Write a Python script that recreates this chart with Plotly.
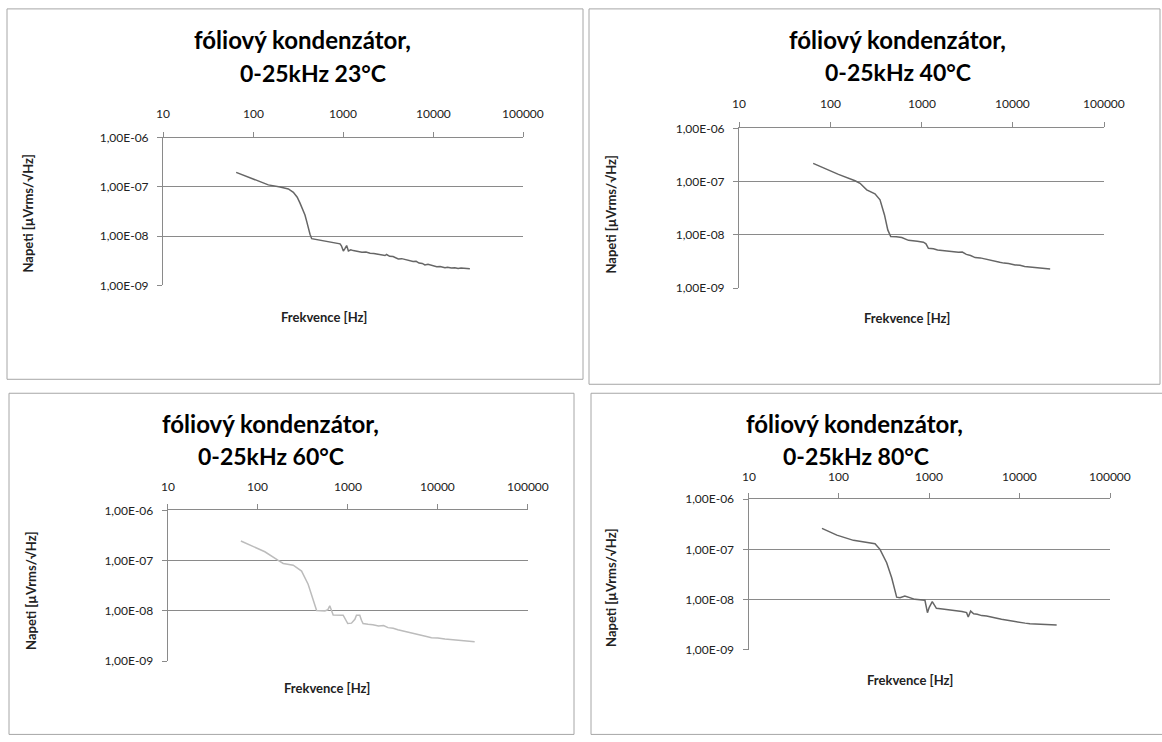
import math
import plotly.graph_objects as go

# ---------------- data ----------------
freq_23 = [65, 100, 148, 200, 247, 281, 310, 333, 355, 378, 395, 412, 430, 449, 500, 560, 631, 700,
           780, 850, 927, 960, 1009, 1050, 1098, 1148, 1220, 1300, 1450, 1622, 1800, 2000, 2200,
           2400, 2650, 2930, 3050, 3300, 3600, 3850, 4110, 4500, 5000, 5500, 6000, 6500, 7000,
           7600, 8130, 8800, 9500, 10200, 11000, 12000, 13600, 14500, 16000, 17500, 19000, 20500,
           22000, 23500, 25700]
volt_23 = [1.98e-7, 1.46e-7, 1.10e-7, 1.00e-7, 9.1e-8, 7.8e-8, 6.2e-8, 4.7e-8, 3.6e-8, 2.7e-8,
           2.0e-8, 1.45e-8, 1.1e-8, 8.9e-9, 8.6e-9, 8.3e-9, 7.8e-9, 7.6e-9,
           7.3e-9, 7.2e-9, 7.0e-9, 6.4e-9, 5.0e-9, 5.6e-9, 6.45e-9, 5.0e-9, 5.3e-9, 5.1e-9, 4.9e-9,
           4.7e-9, 4.75e-9, 4.5e-9, 4.45e-9, 4.3e-9, 4.2e-9, 4.05e-9, 4.25e-9, 3.9e-9, 3.85e-9,
           3.6e-9, 3.45e-9, 3.5e-9, 3.3e-9, 3.2e-9, 3.05e-9, 3.1e-9, 2.85e-9,
           2.8e-9, 2.6e-9, 2.68e-9, 2.55e-9, 2.5e-9, 2.4e-9, 2.42e-9, 2.3e-9, 2.35e-9, 2.25e-9,
           2.28e-9, 2.2e-9, 2.26e-9, 2.22e-9, 2.16e-9, 2.18e-9]

freq_40 = [65, 123, 187, 212, 251, 309, 351, 393, 427, 460, 530, 608, 720, 800, 900, 1050, 1120,
           1190, 1350, 1500, 1670, 1850, 2100, 2300, 2540, 2800, 3100, 3450, 3870, 4400, 5000,
           5600, 6410, 7200, 8000, 9000, 10600, 12000, 13500, 15500, 17600, 19500, 21000, 23000,
           25700]
volt_40 = [2.2e-7, 1.37e-7, 1.04e-7, 9.3e-8, 7.0e-8, 5.9e-8, 4.55e-8, 2.37e-8, 1.24e-8, 9.3e-9,
           9.2e-9, 8.9e-9, 7.9e-9, 7.8e-9, 7.6e-9, 7.3e-9, 6.8e-9,
           5.6e-9, 5.5e-9, 5.2e-9, 5.1e-9, 4.95e-9, 4.9e-9, 4.8e-9, 4.7e-9, 4.75e-9, 4.3e-9,
           4.1e-9, 3.75e-9, 3.7e-9, 3.5e-9, 3.35e-9, 3.16e-9, 3.05e-9, 2.95e-9, 2.9e-9, 2.73e-9,
           2.7e-9, 2.55e-9, 2.5e-9, 2.43e-9, 2.4e-9, 2.38e-9, 2.35e-9, 2.3e-9]

freq_60 = [65, 120, 169, 192, 248, 307, 363, 407, 451, 557, 600, 631, 660, 689, 889, 950, 1000,
           1100, 1200, 1250, 1360, 1420, 1480, 1680, 1900, 2200, 2500, 2800, 3200, 3600, 4100,
           4680, 5500, 6500, 7500, 8500, 10000, 12000, 13500, 15500, 17500, 20000, 22500, 25700]
volt_60 = [2.46e-7, 1.5e-7, 1.01e-7, 8.8e-8, 8.1e-8, 6.2e-8, 3.4e-8, 1.83e-8, 1.02e-8, 1.0e-8,
           1.05e-8, 1.26e-8, 1.05e-8, 8.3e-9, 8.2e-9, 6.5e-9, 5.6e-9,
           5.7e-9, 6.8e-9, 8.2e-9, 8.2e-9, 6.5e-9, 5.6e-9, 5.4e-9, 5.3e-9, 5.0e-9, 5.1e-9, 4.64e-9,
           4.5e-9, 4.2e-9, 4.0e-9, 3.7e-9, 3.55e-9, 3.3e-9, 3.1e-9, 2.93e-9, 2.9e-9, 2.75e-9,
           2.7e-9, 2.6e-9, 2.62e-9, 2.5e-9, 2.52e-9, 2.44e-9]

freq_80 = [65, 95, 145, 221, 251, 285, 338, 384, 436, 475, 537, 695, 896, 955, 1000, 1080, 1200,
           1400, 1700, 2000, 2300, 2590, 2700, 2870, 3100, 3400, 3800, 4310, 4900, 5600, 6300,
           7180, 8200, 9200, 10000, 11500, 13000, 15000, 18000, 20500, 23000, 25700]
volt_80 = [2.61e-7, 1.92e-7, 1.51e-7, 1.35e-7, 1.29e-7, 1.0e-7, 5.4e-8, 2.72e-8, 1.12e-8, 1.09e-8,
           1.18e-8, 1.01e-8, 9.7e-9, 5.5e-9, 7.0e-9, 9.1e-9, 6.7e-9,
           6.5e-9, 6.3e-9, 6.1e-9, 5.8e-9, 5.5e-9, 4.5e-9, 5.9e-9, 5.2e-9, 5.1e-9, 4.8e-9, 4.7e-9,
           4.4e-9, 4.25e-9, 4.05e-9, 3.87e-9, 3.8e-9, 3.6e-9, 3.55e-9, 3.4e-9, 3.31e-9, 3.25e-9,
           3.2e-9, 3.15e-9, 3.18e-9, 3.13e-9]

titles_line1 = ["fóliový kondenzátor,"] * 4
titles_line2 = ["0-25kHz 23°C", "0-25kHz 40°C", "0-25kHz 60°C", "0-25kHz 80°C"]
x_tick_vals = [10, 100, 1000, 10000, 100000]
x_tick_text = ["10", "100", "1000", "10000", "100000"]
y_tick_vals = [1e-9, 1e-8, 1e-7, 1e-6]
y_tick_text = ["1,00E-09", "1,00E-08", "1,00E-07", "1,00E-06"]
x_title = "Frekvence [Hz]"
y_title = "Napeti [µVrms/√Hz]"

series = [(freq_23, volt_23), (freq_40, volt_40), (freq_60, volt_60), (freq_80, volt_80)]
line_colors = ["#666666", "#666666", "#bcbcbc", "#666666"]

# ---------------- layout (screen pixels) ----------------
W, H = 1162, 742
FONT = "Lato"
# measured vertical mapping of the capture: shown_y = 6.1 + 0.9814 * page_y
V_OFF, V_SCALE = 6.1, 0.9814


def px(x):
    return x / W


def py(y):
    page_y = min(max((y - V_OFF) / V_SCALE, 0.6), H - 0.6)
    return 1 - page_y / H


areas = [(163, 523, 136, 284), (739, 1104, 126.7, 286.7), (167.7, 527.8, 509.3, 660.3),
         (748.5, 1110, 498, 649)]
boxes = [(7, 7, 583, 378), (589, 7, 1160, 383), (9, 392, 574, 760), (591, 392, 1170, 737)]
title_pos = [(303, 313, 38, 71), (897, 898, 38, 70), (270, 271, 422, 455), (854, 856, 422, 455)]
xtick_label_y = [112, 102, 485, 475]
xtitle_pos = [(324, 316), (907, 317), (327, 687), (910, 679)]
ytitle_pos = [(28, 212), (611, 213), (31, 590), (611, 587)]

fig = go.Figure()
layout = dict(width=W, height=H, margin=dict(l=0, r=0, t=0, b=0), paper_bgcolor="white",
              plot_bgcolor="white", showlegend=False, shapes=[], annotations=[])

for i, ((fx, vy), col) in enumerate(zip(series, line_colors)):
    n = "" if i == 0 else str(i + 1)
    fig.add_trace(go.Scatter(x=fx, y=vy, mode="lines", line=dict(color=col, width=1.5),
                             xaxis="x" + n, yaxis="y" + n, hoverinfo="skip"))
    l, r, t, b = areas[i]
    layout["xaxis" + n] = dict(type="log", range=[1, 5], domain=[px(l), px(r)],
                               anchor="y" + n, side="top", showgrid=False, zeroline=False,
                               showline=True, linecolor="#8a8a8a", linewidth=1,
                               ticks="outside", ticklen=5, tickcolor="#8a8a8a",
                               tickvals=x_tick_vals, ticktext=x_tick_text,
                               showticklabels=False, fixedrange=True)
    layout["yaxis" + n] = dict(type="log", range=[-9, -6], domain=[py(b), py(t)],
                               anchor="x" + n, showgrid=True, gridcolor="#8a8a8a", gridwidth=1,
                               zeroline=False, showline=True, linecolor="#8a8a8a", linewidth=1,
                               ticks="outside", ticklen=5, tickcolor="#8a8a8a",
                               tickvals=y_tick_vals, ticktext=y_tick_text,
                               tickfont=dict(family=FONT, size=12, color="#222"),
                               ticklabelstandoff=6, fixedrange=True)
    x0, y0, x1, y1 = boxes[i]
    layout["shapes"].append(dict(type="rect", xref="paper", yref="paper", x0=px(x0), x1=px(x1),
                                 y0=py(y1), y1=py(y0), line=dict(color="#a6a6a6", width=1),
                                 layer="below"))
    tx1, tx2, ty1, ty2 = title_pos[i]
    for txt, xx, yy, sz in ((titles_line1[i], tx1, ty1, 24), (titles_line2[i], tx2, ty2, 23)):
        layout["annotations"].append(dict(text="<b>" + txt + "</b>", xref="paper", yref="paper",
                                          x=px(xx), y=py(yy), xanchor="center", yanchor="middle",
                                          showarrow=False,
                                          font=dict(family=FONT, size=sz, color="#000")))
    for v, lab in zip(x_tick_vals, x_tick_text):
        layout["annotations"].append(dict(text=lab, xref="x" + n, yref="paper", x=math.log10(v),
                                          y=py(xtick_label_y[i]), xanchor="center",
                                          yanchor="middle", showarrow=False,
                                          font=dict(family=FONT, size=12, color="#222")))
    ax, ay = xtitle_pos[i]
    layout["annotations"].append(dict(text="<b>" + x_title + "</b>", xref="paper", yref="paper",
                                      x=px(ax), y=py(ay), xanchor="center", yanchor="middle",
                                      showarrow=False, font=dict(family=FONT, size=13, color="#222")))
    bx, by = ytitle_pos[i]
    layout["annotations"].append(dict(text="<b>" + y_title + "</b>", xref="paper", yref="paper",
                                      x=px(bx), y=py(by), xanchor="center", yanchor="middle",
                                      textangle=-90, showarrow=False,
                                      font=dict(family=FONT, size=13, color="#222")))

fig.update_layout(**layout)
fig.write_html(
    "out.html",
    config={"displayModeBar": False},
    post_script=(
        "var d=document.querySelector('.plotly-graph-div');"
        "d.style.position='fixed';d.style.left='0px';d.style.top='0px';"
        "document.documentElement.style.margin='0';document.body.style.margin='0';"
        "document.documentElement.style.overflow='hidden';document.body.style.overflow='hidden';"
    ),
)
